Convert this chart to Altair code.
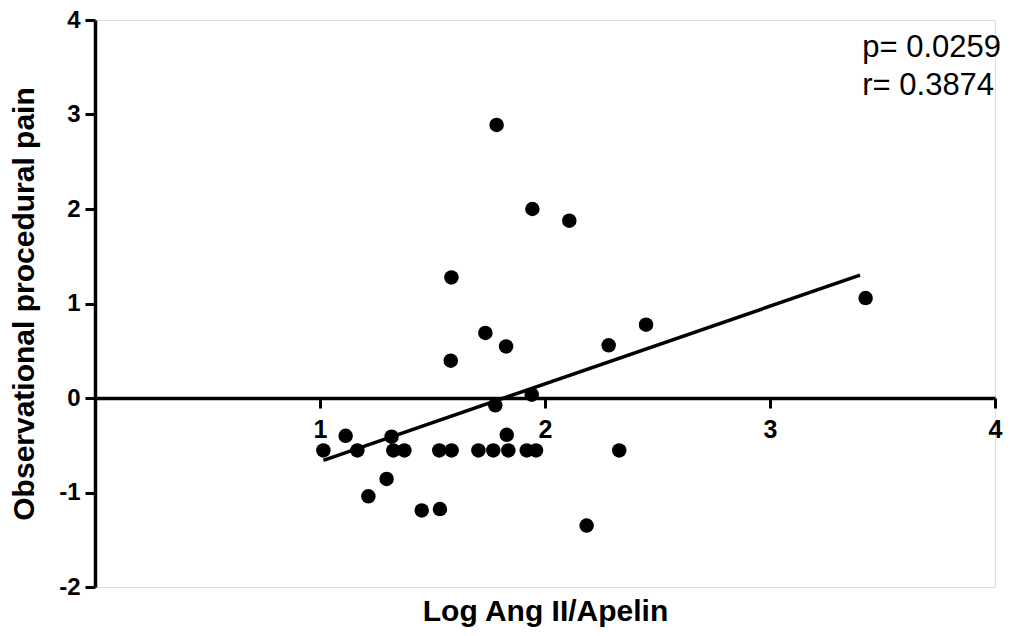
import altair as alt
import pandas as pd

# Scatter data
log_ratio = [1.015, 1.114, 1.166, 1.215, 1.296, 1.318, 1.326, 1.375, 1.452, 1.533,
             1.530, 1.585, 1.704, 1.770, 1.837, 1.830, 1.919, 1.960, 1.779, 1.941,
             1.785, 1.944, 2.108, 1.584, 1.735, 1.827, 1.581, 2.283, 2.449, 2.185,
             2.330, 3.425]
pain = [-0.555, -0.40, -0.555, -1.04, -0.857, -0.41, -0.555, -0.555, -1.19, -1.175,
        -0.555, -0.555, -0.555, -0.555, -0.555, -0.39, -0.555, -0.555, -0.078, 0.035,
        2.889, 2.00, 1.876, 1.276, 0.688, 0.546, 0.395, 0.557, 0.776, -1.35,
        -0.555, 1.058]

# Regression line endpoints
fit_x = [1.015, 3.40]
fit_y = [-0.66, 1.30]

# Annotation
stat_labels = ["p= 0.0259", "r= 0.3874"]
stat_x = [3.41, 3.41]
stat_y = [3.61, 3.205]

x_ticks = [1, 2, 3, 4]
y_ticks = [-2, -1, 0, 1, 2, 3, 4]

pts = pd.DataFrame({"x": log_ratio, "y": pain})
fit = pd.DataFrame({"x": fit_x, "y": fit_y})
ann = pd.DataFrame({"x": stat_x, "y": stat_y, "t": stat_labels})

FONT = "Liberation Sans"

xscale = alt.Scale(domain=[0, 4], nice=False, zero=False)
yscale = alt.Scale(domain=[-2, 4], nice=False, zero=False)

xaxis = alt.Axis(
    values=x_ticks, grid=False, offset=-189, orient="bottom",
    labelExpr="'' + datum.value",
    domainColor="black", domainWidth=3.5, tickColor="black", tickWidth=3, tickSize=10,
    labelFont=FONT, labelFontSize=25, labelFontWeight="bold", labelColor="black",
    labelPadding=9, labelFlush=False,
    title="Log Ang II/Apelin", titleFont=FONT, titleFontSize=30, titleFontWeight="bold",
    titleColor="black", titleY=222, titleBaseline="alphabetic", titleAlign="center",
)
yaxis = alt.Axis(
    values=y_ticks, grid=False,
    labelExpr="'' + datum.value",
    domainColor="black", domainWidth=3.5, tickColor="black", tickWidth=3, tickSize=10,
    labelFont=FONT, labelFontSize=24, labelFontWeight="bold", labelColor="black",
    labelPadding=5, labelFlush=False,
    title="Observational procedural pain", titleFont=FONT, titleFontSize=30,
    titleFontWeight="bold", titleColor="black", titleX=-62, titleY=283.5,
    titleBaseline="alphabetic", titleAlign="center", titleAngle=270,
)

points = alt.Chart(pts).mark_circle(size=210, color="black", opacity=1).encode(
    x=alt.X("x:Q", scale=xscale, axis=xaxis),
    y=alt.Y("y:Q", scale=yscale, axis=yaxis),
)

line = alt.Chart(fit).mark_line(color="black", strokeWidth=3.5).encode(
    x=alt.X("x:Q", scale=xscale),
    y=alt.Y("y:Q", scale=yscale),
)

text = alt.Chart(ann).mark_text(
    align="left", baseline="alphabetic", font=FONT, fontSize=31, color="black"
).encode(
    x=alt.X("x:Q", scale=xscale),
    y=alt.Y("y:Q", scale=yscale),
    text="t:N",
)

chart = alt.layer(line, points, text).properties(
    width=900, height=567,
    autosize=alt.AutoSizeParams(type="none"),
    padding={"left": 87, "top": 12, "right": 29, "bottom": 41},
).configure_view(stroke=None).configure(background="white")

chart.save("out.html", embed_options={"renderer": "svg", "actions": False})
